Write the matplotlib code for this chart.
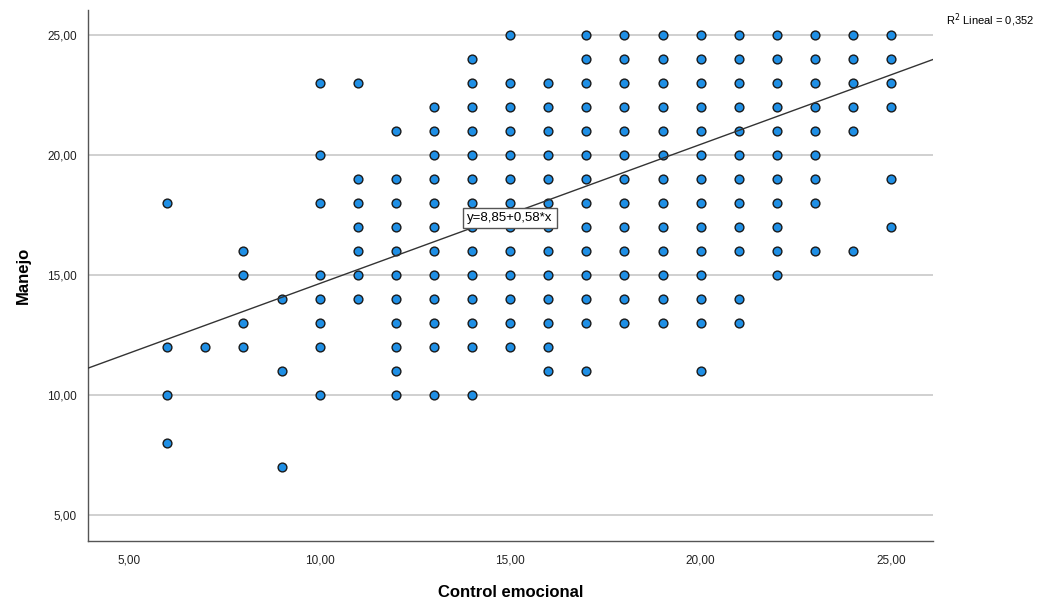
#!/usr/bin/env python3
import numpy as np
import matplotlib as mpl
import matplotlib.pyplot as plt

mpl.use('Agg')

# +
# data: Manejo values observed at each Control emocional score
# -
control = [6, 7, 8, 9, 10, 11, 12, 13, 14, 15, 16, 17, 18, 19, 20, 21, 22, 23, 24, 25]
manejo = [
    [18, 12, 10, 8],
    [12],
    [16, 15, 13, 12],
    [14, 11, 7],
    [23, 20, 18, 15, 14, 13, 12, 10],
    [23, 19, 18, 17, 16, 15, 14],
    [21, 19, 18, 17, 16, 15, 14, 13, 12, 11, 10],
    [22, 21, 20, 19, 18, 17, 16, 15, 14, 13, 12, 10],
    [24, 23, 22, 21, 20, 19, 18, 17, 16, 15, 14, 13, 12, 10],
    [25, 23, 22, 21, 20, 19, 18, 17, 16, 15, 14, 13, 12],
    [23, 22, 21, 20, 19, 18, 17, 16, 15, 14, 13, 12, 11],
    [25, 24, 23, 22, 21, 20, 19, 18, 17, 16, 15, 14, 13, 11],
    [25, 24, 23, 22, 21, 20, 19, 18, 17, 16, 15, 14, 13],
    [25, 24, 23, 22, 21, 20, 19, 18, 17, 16, 15, 14, 13],
    [25, 24, 23, 22, 21, 20, 19, 18, 17, 16, 15, 14, 13, 11],
    [25, 24, 23, 22, 21, 20, 19, 18, 17, 16, 14, 13],
    [25, 24, 23, 22, 21, 20, 19, 18, 17, 16, 15],
    [25, 24, 23, 22, 21, 20, 19, 18, 16],
    [25, 24, 23, 22, 21, 16],
    [25, 24, 23, 22, 19, 17],
]
intercept = 8.85
slope = 0.58
r2 = 0.352
ticks = [5, 10, 15, 20, 25]
tick_labels = ['5,00', '10,00', '15,00', '20,00', '25,00']

# +
# plot
# -
plt.rcParams['font.family'] = ['Liberation Sans', 'DejaVu Sans']

_x = np.concatenate([[c] * len(m) for c, m in zip(control, manejo)])
_y = np.concatenate(manejo)

fig = plt.figure(figsize=(10.37, 6.02), dpi=100)
ax = fig.add_axes([88 / 1037, 61 / 602, 845 / 1037, 531 / 602])

xlim = (3.92, 26.1)
ylim = (3.92, 26.05)
ax.set_xlim(*xlim)
ax.set_ylim(*ylim)

ax.scatter(_x, _y, s=40, color='#1f8fe5', edgecolors='#1a1a1a', linewidths=1.0, zorder=3)

_lx = np.array(xlim)
ax.plot(_lx, intercept + slope * _lx, color='#333333', lw=1.0, zorder=4)

ax.set_xticks(ticks)
ax.set_xticklabels(tick_labels)
ax.set_yticks(ticks)
ax.set_yticklabels(tick_labels)
ax.tick_params(length=0, labelsize=8.5, colors='#222222', pad=10)
ax.tick_params(axis='y', pad=8)
ax.grid(axis='y', color='#c8c8c8', lw=1.2, zorder=0)
ax.set_axisbelow(True)
for _s in ['top', 'right']:
    ax.spines[_s].set_visible(False)
for _s in ['left', 'bottom']:
    ax.spines[_s].set_color('#555555')
    ax.spines[_s].set_linewidth(1.0)

ax.set_xlabel('Control emocional', fontsize=12, fontweight='bold', labelpad=13)
ax.set_ylabel('Manejo', fontsize=12, fontweight='bold', labelpad=12)

ax.text(15.0, 17.4, f'y={intercept:.2f}+{slope:.2f}*x'.replace('.', ','), fontsize=9.5,
        ha='center', va='center', zorder=5,
        bbox=dict(boxstyle='square,pad=0.3', fc='white', ec='#555555', lw=1.0))
fig.text(946 / 1037, 1 - 20 / 602, f'R$^2$ Lineal = {r2:.3f}'.replace('.', ','),
         fontsize=8, ha='left', va='center')

plt.savefig('out.png', dpi=100)
